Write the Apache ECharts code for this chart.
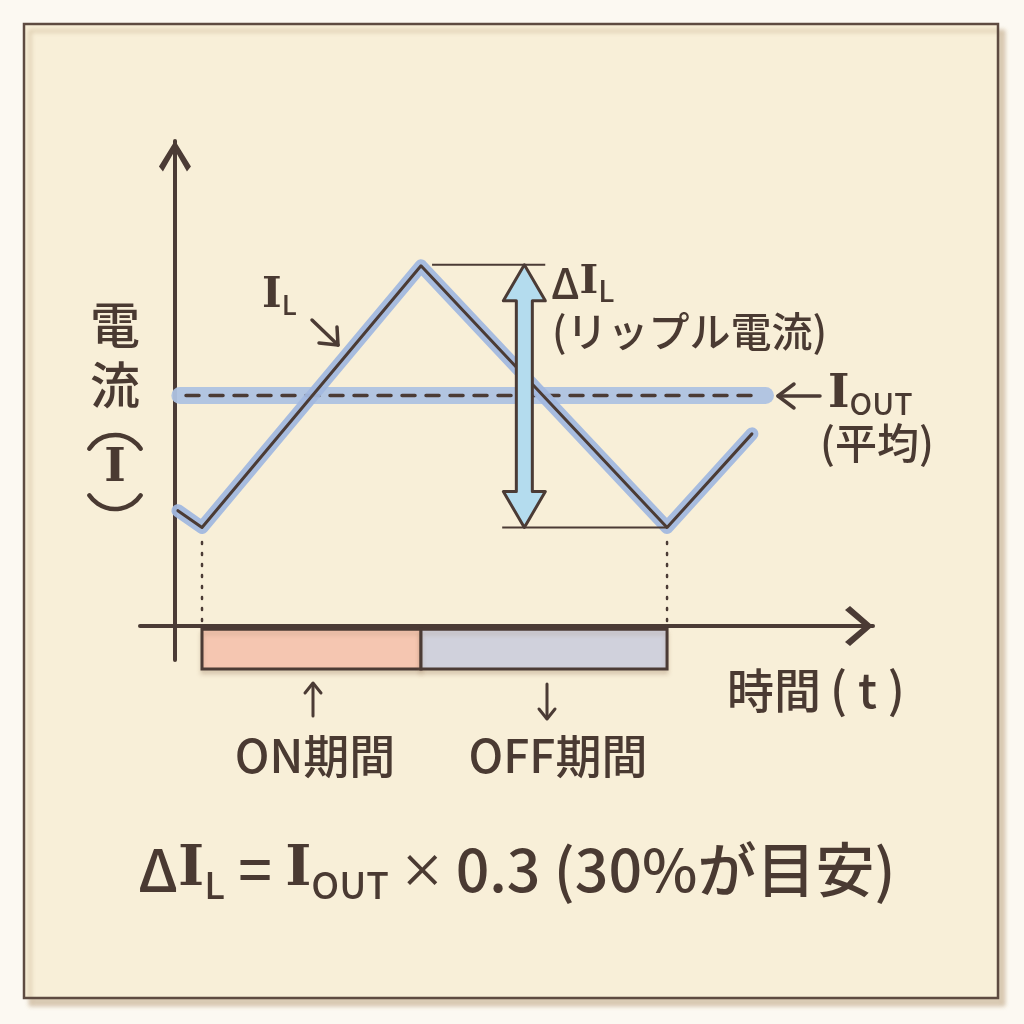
<!DOCTYPE html>
<html>
<head>
<meta charset="utf-8">
<script src="https://cdn.jsdelivr.net/npm/echarts@6/dist/echarts.min.js"></script>
<style>
html,body{margin:0;padding:0;background:#fcf9f2;}
#chart{width:1024px;height:1024px;}
</style>
</head>
<body>
<div id="chart"></div>
<script>
// ---- data (time t in arbitrary units, current I in arbitrary units) ----
const ilTime = [0.12, 1.1, 10, 20, 23.45];
const ilCurrent = [2.4, 2.05, 7.5, 2.05, 4.0];
const ioutLevel = 4.8;
const ioutSpan = [0.2, 24.0];
const rippleTime = 14.2;
const ripplePeak = 7.52;
const rippleValley = 2.05;
const refTopSpan = [10.45, 15.05];
const refBottomSpan = [13.3, 20.0];
const markerTimes = [1.1, 20];
const markerTop = 1.75;
const periodNames = ['ON期間', 'OFF期間'];
const periodStart = [1.1, 10];
const periodEnd = [10, 20];
const periodBand = [-0.07, -0.9];
const axisRangeT = [-1.42, 28.37];
const axisRangeI = [-0.71, 10.1];

// ---- styles ----
const INK = '#4b3b35';
const TXT = '#4a3a32';
const CJK = '"Noto Sans CJK JP","Noto Sans",sans-serif';
const SERIF = '"DejaVu Serif","Liberation Serif",serif';
const W = '500';
const periodColors = ['#f5c6b1', '#d0d1dc'];

const chart = echarts.init(document.getElementById('chart'), null, {renderer: 'canvas'});

const ilData = ilTime.map((t, i) => [t, ilCurrent[i]]);

function txt(x, y, text, size, opts) {
  opts = opts || {};
  return {
    type: 'text', x: x, y: y, z: 100,
    style: {
      text: text, font: (opts.weight || W) + ' ' + size + 'px ' + (opts.family || CJK),
      fill: TXT, textAlign: opts.align || 'left', textVerticalAlign: opts.valign || 'middle'
    }
  };
}
function pline(points, w) {
  return {type: 'polyline', z: 100, shape: {points: points},
    style: {stroke: INK, lineWidth: w || 3.5, lineCap: 'round', lineJoin: 'round', fill: null}};
}
function arc(cx, cy, r, a0, a1) {
  return {type: 'arc', z: 100, shape: {cx: cx, cy: cy, r: r, startAngle: a0 * Math.PI / 180, endAngle: a1 * Math.PI / 180, clockwise: true},
    style: {stroke: TXT, lineWidth: 4.5, lineCap: 'round', fill: null}};
}
function f(size, fam) { return W + ' ' + size + 'px ' + (fam || CJK); }
function fi(size) { return 'bold ' + size + 'px ' + SERIF; }

const graphics = [
  {type: 'rect', z: -10, shape: {x: 24, y: 24, width: 974, height: 974},
   style: {fill: '#f8efd8', stroke: '#5e4b41', lineWidth: 2.5,
     shadowColor: 'rgba(180,150,110,0.45)', shadowOffsetX: 6, shadowOffsetY: 7, shadowBlur: 4}},
  // vertical y label
  txt(115, 325, '電', 50, {align: 'center'}),
  txt(115, 385, '流', 50, {align: 'center'}),
  arc(115, 466, 31, -146, -34),
  txt(115, 469, 'I', 46, {align: 'center', family: SERIF, weight: 'bold'}),
  arc(115, 478, 31, 34, 146),
  // I_L label + arrow
  {type: 'text', x: 262, y: 296, z: 100, style: {
    text: '{i|I}{s|L}', textVerticalAlign: 'middle',
    rich: {i: {font: fi(42), fill: TXT, verticalAlign: 'middle', lineHeight: 44},
           s: {font: f(27), fill: TXT, verticalAlign: 'bottom', lineHeight: 30}}}},
  pline([[312, 320], [338, 345]]),
  pline([[319, 343], [338, 345], [337, 327]]),
  // Delta I_L label
  {type: 'text', x: 551, y: 283, z: 100, style: {
    text: '{d|Δ}{i|I}{s|L}', textVerticalAlign: 'middle',
    rich: {d: {font: f(42), fill: TXT, verticalAlign: 'middle', lineHeight: 44},
           i: {font: fi(40), fill: TXT, verticalAlign: 'middle', lineHeight: 44},
           s: {font: f(29), fill: TXT, verticalAlign: 'bottom', lineHeight: 32}}}},
  txt(552, 331, '(リップル電流)', 41),
  // I_OUT label
  pline([[778, 396], [820, 396]]),
  pline([[794, 384], [778, 396], [794, 408]]),
  {type: 'text', x: 828, y: 395, z: 100, style: {
    text: '{i|I}{s|OUT}', textVerticalAlign: 'middle',
    rich: {i: {font: fi(46), fill: TXT, verticalAlign: 'middle', lineHeight: 48},
           s: {font: f(30), fill: TXT, verticalAlign: 'bottom', lineHeight: 34}}}},
  txt(820, 443, '(平均)', 42),
  // time label
  txt(727, 690, '時間', 47),
  txt(830, 690, '( t )', 48),
  // period labels + arrows
  txt(315, 756, periodNames[0], 46, {align: 'center'}),
  txt(558, 756, periodNames[1], 46, {align: 'center'}),
  pline([[313, 716], [313, 684]], 3),
  pline([[305, 693], [313, 683], [321, 693]], 3),
  pline([[547, 684], [547, 718]], 3),
  pline([[539, 709], [547, 719], [555, 709]], 3),
  // formula
  {type: 'text', x: 138, y: 870, z: 100, style: {
    text: '{d|Δ}{i|I}{s|L}{n| = }{i|I}{s|OUT}{x| × }{n|0.3 (30%が目安)}', textVerticalAlign: 'middle',
    rich: {d: {font: f(59), fill: TXT, verticalAlign: 'middle', lineHeight: 66},
           i: {font: fi(56), fill: TXT, verticalAlign: 'middle', lineHeight: 66},
           s: {font: f(37), fill: TXT, verticalAlign: 'bottom', lineHeight: 44},
           x: {font: f(46), fill: TXT, verticalAlign: 'middle', lineHeight: 66},
           n: {font: f(59), fill: TXT, verticalAlign: 'middle', lineHeight: 66}}}}
];

function renderRipple(params, api) {
  const top = api.coord([api.value(0), api.value(1)]);
  const bot = api.coord([api.value(0), api.value(2)]);
  const x = top[0], y1 = top[1], y2 = bot[1];
  const hw = 21, hl = 36, sw = 8;
  return {type: 'polygon', shape: {points: [[x, y1], [x + hw, y1 + hl], [x + sw, y1 + hl], [x + sw, y2 - hl],
      [x + hw, y2 - hl], [x, y2], [x - hw, y2 - hl], [x - sw, y2 - hl], [x - sw, y1 + hl], [x - hw, y1 + hl]]},
    style: {fill: '#b4dcee', stroke: INK, lineWidth: 3, lineJoin: 'round'}};
}
function renderPeriod(params, api) {
  const p0 = api.coord([api.value(0), api.value(2)]);
  const p1 = api.coord([api.value(1), api.value(3)]);
  return {type: 'rect', shape: {x: p0[0], y: p0[1], width: p1[0] - p0[0], height: p1[1] - p0[1]},
    style: {fill: periodColors[params.dataIndex], stroke: INK, lineWidth: 3,
      shadowColor: 'rgba(150,120,90,0.25)', shadowOffsetY: 4, shadowBlur: 4}};
}

const series = [
  {type: 'custom', renderItem: renderPeriod, clip: false, z: 1, silent: true,
   data: periodStart.map((s, i) => [s, periodEnd[i], periodBand[0], periodBand[1]])},
  {type: 'line', data: [[ioutSpan[0], ioutLevel], [ioutSpan[1], ioutLevel]], symbol: 'none', z: 3,
   lineStyle: {color: '#aec2e2', width: 17, cap: 'round', opacity: 0.95}},
  {type: 'line', data: [[ioutSpan[0] + 0.25, ioutLevel], [ioutSpan[1] - 0.3, ioutLevel]], symbol: 'none', z: 4,
   lineStyle: {color: INK, width: 3.5, type: [13, 11], cap: 'round'}},
  {type: 'line', data: ilData, symbol: 'none', z: 5,
   lineStyle: {color: '#a2b8df', width: 13, cap: 'round', join: 'round', opacity: 0.95}},
  {type: 'line', data: ilData, symbol: 'none', z: 6,
   lineStyle: {color: INK, width: 3, cap: 'round', join: 'round'}},
  {type: 'line', data: [[refTopSpan[0], ripplePeak], [refTopSpan[1], ripplePeak]], symbol: 'none', z: 6,
   lineStyle: {color: INK, width: 2}},
  {type: 'line', data: [[refBottomSpan[0], rippleValley], [refBottomSpan[1], rippleValley]], symbol: 'none', z: 6,
   lineStyle: {color: INK, width: 2}},
  {type: 'custom', renderItem: renderRipple, z: 7, clip: false, silent: true,
   data: [[rippleTime, ripplePeak, rippleValley]]}
].concat(markerTimes.map(t => ({
  type: 'line', data: [[t, markerTop], [t, 0.05]], symbol: 'none', z: 2,
  lineStyle: {color: INK, width: 2.5, type: [2, 9], cap: 'round'}
})));

chart.setOption({
  backgroundColor: '#fcf9f2',
  animation: false,
  grid: {left: 140, right: 151, top: 141, bottom: 364},
  xAxis: {type: 'value', min: axisRangeT[0], max: axisRangeT[1],
    axisLine: {show: true, onZero: true, lineStyle: {color: INK, width: 4, cap: 'round'},
      symbol: ['none', 'path://M20 0 L40 23 L36 28 L20 9 L4 28 L0 23 Z'], symbolSize: [40, 28], symbolOffset: [0, -14]},
    axisTick: {show: false}, axisLabel: {show: false}, splitLine: {show: false}},
  yAxis: {type: 'value', min: axisRangeI[0], max: axisRangeI[1],
    axisLine: {show: true, onZero: true, lineStyle: {color: INK, width: 4, cap: 'round'},
      symbol: ['none', 'path://M16 0 L32 26 L28 31 L16 10 L4 31 L0 26 Z'], symbolSize: [32, 31], symbolOffset: [0, -15]},
    axisTick: {show: false}, axisLabel: {show: false}, splitLine: {show: false}},
  graphic: graphics,
  series: series
});
</script>
</body>
</html>
